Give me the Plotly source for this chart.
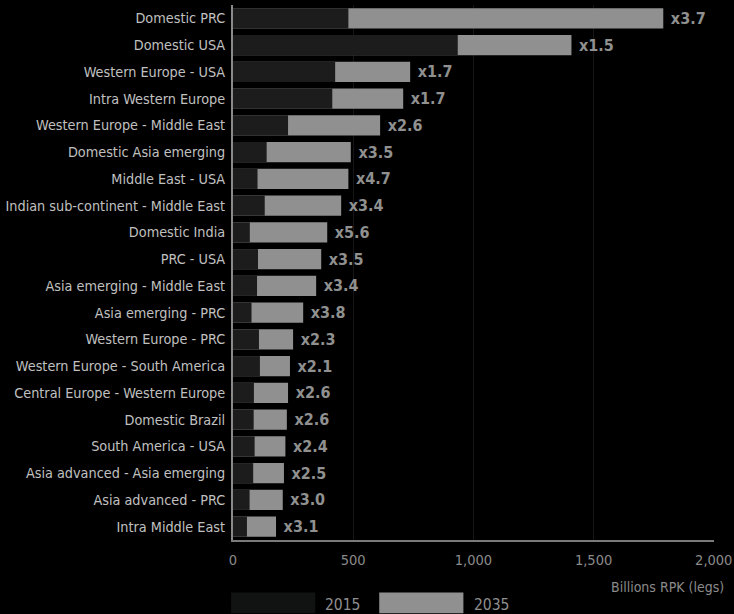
import plotly.graph_objects as go

routes = [
    'Domestic PRC', 'Domestic USA', 'Western Europe - USA', 'Intra Western Europe',
    'Western Europe - Middle East', 'Domestic Asia emerging', 'Middle East - USA',
    'Indian sub-continent - Middle East', 'Domestic India', 'PRC - USA',
    'Asia emerging - Middle East', 'Asia emerging - PRC', 'Western Europe - PRC',
    'Western Europe - South America', 'Central Europe - Western Europe',
    'Domestic Brazil', 'South America - USA', 'Asia advanced - Asia emerging',
    'Asia advanced - PRC', 'Intra Middle East'
]
rpk_2015 = [480, 935, 425, 413, 229, 140, 102, 132, 70, 104,
            100, 77, 108, 112, 87, 86, 90, 84, 69, 58]
rpk_2035 = [1790, 1408, 737, 708, 612, 490, 480, 450, 392, 367,
            346, 292, 250, 237, 229, 224, 218, 212, 207, 179]
growth = ['x3.7', 'x1.5', 'x1.7', 'x1.7', 'x2.6', 'x3.5', 'x4.7', 'x3.4', 'x5.6', 'x3.5',
          'x3.4', 'x3.8', 'x2.3', 'x2.1', 'x2.6', 'x2.6', 'x2.4', 'x2.5', 'x3.0', 'x3.1']

FONT = 'DejaVu Sans Condensed, Liberation Sans Narrow, sans-serif'
DARK = '#1c1c1c'
GREY = '#8f908f'

fig = go.Figure()
fig.add_trace(go.Bar(y=routes, x=rpk_2035, orientation='h', name='2035',
                     marker=dict(color=GREY, line=dict(width=0)),
                     text=growth, texttemplate='\u00a0<b>%{text}</b>', textposition='outside',
                     textfont=dict(family=FONT, size=16, color=GREY), cliponaxis=False))
fig.add_trace(go.Bar(y=routes, x=rpk_2015, orientation='h', name='2015',
                     marker=dict(color=DARK, line=dict(width=0))))

fig.update_layout(
    barmode='overlay', bargap=0.25, showlegend=False,
    width=734, height=614, margin=dict(l=233, r=20, t=5, b=74),
    paper_bgcolor='black', plot_bgcolor='black',
    font=dict(family=FONT, color='#bdbdbd', size=14),
    xaxis=dict(range=[0, 2001], tickvals=[0, 500, 1000, 1500, 2000], tickformat=',',
               showgrid=True, gridcolor='#161616', gridwidth=1, zeroline=False,
               showline=True, linecolor='#7a7a7a', linewidth=2, automargin=False,
               tickfont=dict(color='#8a8a8a', size=14.5), ticks='', ticklabelstandoff=6),
    yaxis=dict(autorange='reversed', showline=True, linecolor='#8a8a8a', linewidth=2,
               automargin=False, ticks='',
               tickfont=dict(color='#c0c0c0', size=14.3), ticklabelstandoff=3),
)

fig.add_annotation(text='Billions RPK (legs)', xref='paper', yref='paper', x=1.025, y=-0.088,
                   xanchor='right', yanchor='middle', showarrow=False,
                   font=dict(family=FONT, size=14, color='#8a8a8a'))
# legend drawn by hand, wide swatches as in the original
for x0, x1, col, lab in [(-0.004, 0.171, '#111212', '2015'), (0.304, 0.479, GREY, '2035')]:
    fig.add_shape(type='rect', xref='paper', yref='paper', x0=x0, x1=x1, y0=-0.137, y1=-0.098,
                  fillcolor=col, line=dict(width=0))
    fig.add_annotation(text=lab, xref='paper', yref='paper', x=x1 + 0.017, y=-0.122,
                       xanchor='left', yanchor='middle', showarrow=False,
                       font=dict(family=FONT, size=15.5, color='#8f8f8f'))

# page body has a default margin; drop it so the figure fills the window
fig.write_html('out.html', config={'displayModeBar': False},
               post_script="document.body.style.margin='0';")
